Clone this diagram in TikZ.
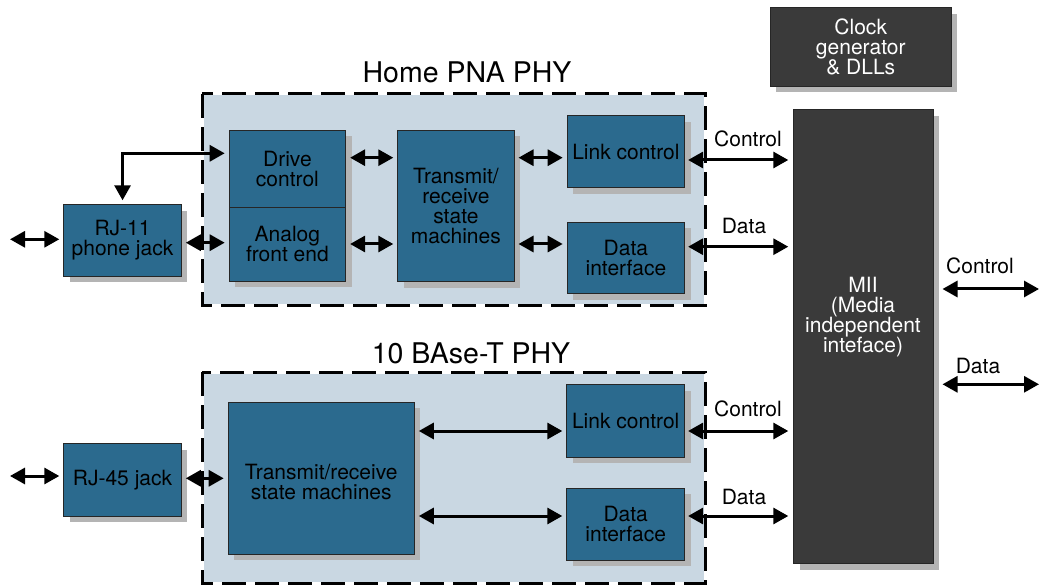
\documentclass[tikz,border=0pt]{standalone}
\usepackage{fontspec}
\setmainfont{TeX Gyre Heros}
\usetikzlibrary{arrows.meta,shadows}
\definecolor{boxblue}{HTML}{2B6A8E}
\definecolor{darkbox}{HTML}{3A3A3A}
\definecolor{phyfill}{HTML}{C9D7E2}
\definecolor{shadowgrey}{HTML}{B4B4B4}
\begin{document}
\begin{tikzpicture}[x=1pt,y=-1pt,
  txt/.style={font=\fontsize{21pt}{20pt}\selectfont, align=center, inner sep=0pt},
  blk/.style={txt, draw=black!85, line width=0.8pt, fill=boxblue, text=black, anchor=north west,
    drop shadow={shadow xshift=6pt, shadow yshift=-6pt, fill=shadowgrey, opacity=1}},
  dark/.style={blk, fill=darkbox, text=white},
  title/.style={font=\fontsize{28.5pt}{30pt}\selectfont, inner sep=0pt},
  phyback/.style={fill=phyfill, draw=white, line width=3pt},
  phyborder/.style={draw=black, line width=3pt, dash pattern=on 24pt off 9pt},
  arr/.style={line width=3pt, {Triangle[length=15pt,width=16pt]}-{Triangle[length=15pt,width=16pt]}, shorten >=4pt, shorten <=4pt},
  lbl/.style={font=\fontsize{21pt}{20pt}\selectfont, inner sep=0pt}
]
\useasboundingbox (0,0) rectangle (1039,585);

% PHY group boxes
\path[phyback] (202,94) rectangle (705,306);
\draw[phyborder] (202,94) rectangle (705,306);
\path[phyback] (202,372) rectangle (705,583);
\draw[phyborder] (202,372) rectangle (705,583);
\node[title] (t1) at (467,72) {Home PNA PHY};
\node[title] (t2) at (471,353) {10 BAse-T PHY};

% Home PNA blocks
\node[blk, minimum width=117.7pt, minimum height=71.7pt] (rj11) at (63.3,204.3) {RJ-11\\phone jack};
\node[blk, minimum width=116.6pt, minimum height=76.7pt] (dc) at (228.7,130) {Drive\\control};
\node[blk, minimum width=116.6pt, minimum height=74.3pt] (afe) at (228.7,206.7) {Analog\\front end};
\node[blk, minimum width=116.4pt, minimum height=151.3pt] (tr1) at (397.3,130) {Transmit/\\receive\\state\\machines};
\node[blk, minimum width=117.6pt, minimum height=72pt] (lc1) at (566.7,115.3) {Link control};
\node[blk, minimum width=117.6pt, minimum height=71.6pt] (di1) at (566.7,221.7) {Data\\interface};

% 10BaseT blocks
\node[blk, minimum width=117.7pt, minimum height=72.4pt] (rj45) at (63.3,443.3) {RJ-45 jack};
\node[blk, minimum width=186.3pt, minimum height=152.3pt] (tr2) at (227.7,401.7) {};
\node[txt] (tr2text) at ([yshift=-4pt]tr2.center) {Transmit/receive\\state machines};
\node[blk, minimum width=118pt, minimum height=72.4pt] (lc2) at (566.3,384.3) {Link control};
\node[blk, minimum width=118pt, minimum height=72.3pt] (di2) at (566.3,487.7) {Data\\interface};

% Dark blocks
\node[dark, minimum width=180.7pt, minimum height=78.4pt] (clk) at (770,7.3) {Clock\\generator\\\& DLLs};
\node[dark, minimum width=139.4pt, minimum height=454pt] (mii) at (793.3,109.3) {};
\node[txt, text=white] (miitext) at (863,317) {MII\\(Media\\independent\\inteface)};

% free ends
\coordinate (l1) at (6,239.3);
\coordinate (l2) at (6,476);
\coordinate (r1) at (1043,289);
\coordinate (r2) at (1043,384.3);

% Home PNA connectors
\draw[arr] (l1) -- (rj11.west |- l1);
\draw[arr] (rj11.east |- 0,242.7) -- (afe.west |- 0,242.7);
\draw[arr] (dc.west |- 0,153.3) -| (rj11.north);
\draw[arr] (dc.east |- 0,157.7) -- (tr1.west |- 0,157.7);
\draw[arr] (afe.east |- 0,244) -- (tr1.west |- 0,244);
\draw[arr] (tr1.east |- 0,157.7) -- (lc1.west |- 0,157.7);
\draw[arr] (tr1.east |- 0,244) -- (di1.west |- 0,244);
\draw[arr, shorten <=3pt, shorten >=5pt] (lc1.east |- 0,160) -- (mii.west |- 0,160);
\draw[arr, shorten <=3pt, shorten >=5pt] (di1.east |- 0,246.7) -- (mii.west |- 0,246.7);
\node[lbl] (c1) at (748,139) {Control};
\node[lbl] (d1) at (744,226) {Data};

% 10BaseT connectors
\draw[arr] (l2) -- (rj45.west |- l2);
\draw[arr] (rj45.east |- 0,478.3) -- (tr2.west |- 0,478.3);
\draw[arr] (tr2.east |- 0,431) -- (lc2.west |- 0,431);
\draw[arr] (tr2.east |- 0,516) -- (di2.west |- 0,516);
\draw[arr, shorten <=3pt, shorten >=5pt] (lc2.east |- 0,431) -- (mii.west |- 0,431);
\draw[arr, shorten <=3pt, shorten >=5pt] (di2.east |- 0,516) -- (mii.west |- 0,516);
\node[lbl] (c2) at (748,409) {Control};
\node[lbl] (d2) at (744,497) {Data};

% MII right side
\draw[arr, shorten <=9pt] (mii.east |- r1) -- (r1);
\draw[arr, shorten <=9pt] (mii.east |- r2) -- (r2);
\node[lbl] (c3) at (980,266) {Control};
\node[lbl] (d3) at (978,366) {Data};
\end{tikzpicture}
\end{document}
